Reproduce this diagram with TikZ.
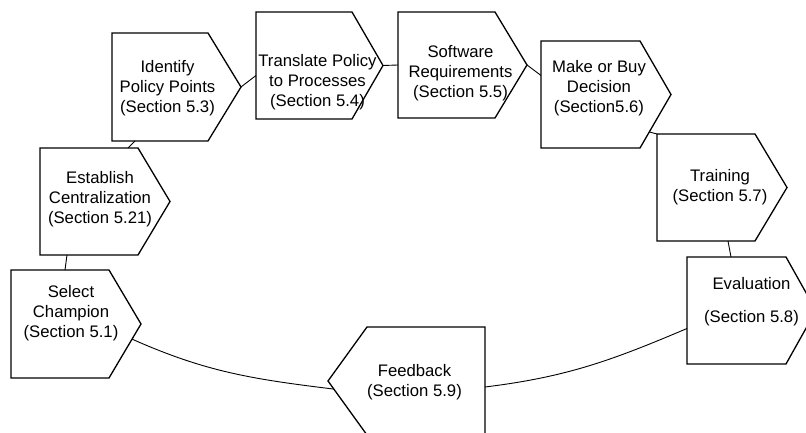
\documentclass[tikz,border=0pt]{standalone}
\usepackage{fontspec}
\setmainfont{Liberation Sans}
\usetikzlibrary{calc}
\tikzstyle{stage} = [rectangle, inner sep=0pt, outer sep=0pt]
\tikzstyle{stagetext} = [align=center, inner sep=0pt, font=\fontsize{16.7}{20}\selectfont]
\tikzstyle{link} = [line width=0.9pt]
\newcommand{\stageoutline}[2]{
    \draw[line width=1.3pt] (#1.north west) -- ([xshift=-#2]#1.north east) -- (#1.east) -- ([xshift=-#2]#1.south east) -- (#1.south west) -- cycle;
}
\newcommand{\stageoutlineleft}[2]{
    \draw[line width=1.3pt] (#1.north east) -- ([xshift=#2]#1.north west) -- (#1.west) -- ([xshift=#2]#1.south west) -- (#1.south east) -- cycle;
}
\begin{document}
\begin{tikzpicture}[x=1pt,y=1pt]
	\useasboundingbox (0,0) rectangle (806,433);
	\clip (0,0) rectangle (806,433);

	\node(champ) at (76,109) [stage, minimum width=130pt, minimum height=108pt, label={[stagetext, xshift=-5pt, yshift=11pt]center:{Select\\Champion\\(Section 5.1)}}] {};
	\stageoutline{champ}{32pt};

	\node(central) at (105,231.5) [stage, minimum width=130pt, minimum height=107pt, label={[stagetext, xshift=-5pt, yshift=2pt]center:{Establish\\Centralization\\(Section 5.21)}}] {};
	\stageoutline{central}{32pt};

	\node(ident) at (176.5,346) [stage, minimum width=129pt, minimum height=108pt, label={[stagetext, xshift=-9pt, yshift=-1pt]center:{Identify\\Policy Points\\(Section 5.3)}}] {};
	\stageoutline{ident}{33pt};

	\node(transl) at (319.5,367.5) [stage, minimum width=127pt, minimum height=107pt, label={[stagetext, xshift=-2pt, yshift=-17pt]center:{Translate Policy\\to Processes\\(Section 5.4)}}] {};
	\stageoutline{transl}{31pt};

	\node(softw) at (462.5,368) [stage, minimum width=129pt, minimum height=106pt, label={[stagetext, xshift=-2pt, yshift=-8pt]center:{Software\\Requirements\\(Section 5.5)}}] {};
	\stageoutline{softw}{32pt};

	\node(mkbuy) at (606,338.5) [stage, minimum width=130pt, minimum height=107pt, label={[stagetext, xshift=-7pt, yshift=6pt]center:{Make or Buy\\Decision\\(Section5.6)}}] {};
	\stageoutline{mkbuy}{31pt};

	\node(train) at (722,245.5) [stage, minimum width=130pt, minimum height=107pt, label={[stagetext, xshift=-2pt]center:{Training\\(Section 5.7)}}] {};
	\stageoutline{train}{32pt};

	\node(eval) at (751.5,122.5) [stage, minimum width=129pt, minimum height=107pt, label={[stagetext, yshift=9pt]center:{Evaluation\\[13pt](Section 5.8)}}] {};
	\stageoutline{eval}{30pt};

	\node(feed) at (406.5,52) [stage, minimum width=157pt, minimum height=108pt, label={[stagetext, xshift=8pt, yshift=-1pt]center:{Feedback\\(Section 5.9)}}] {};
	\stageoutlineleft{feed}{39pt};

	\draw[link] ([xshift=54pt]champ.north west) -- ([xshift=27pt]central.south west);
	\draw[link] ([xshift=88pt]central.north west) -- ([xshift=23pt]ident.south west);
	\draw[link] (ident.east) -- ([yshift=-10pt]transl.west);
	\draw[link] (transl.east) -- (softw.west);
	\draw[link] (softw.east) -- ([yshift=19pt]mkbuy.west);
	\draw[link] ($(mkbuy.east)!0.7!([xshift=-31pt]mkbuy.south east)$) -- (train.north west);
	\draw[link] ([xshift=71pt]train.south west) -- ([xshift=44pt]eval.north west);
	\draw[link] ([yshift=-18pt]eval.west) to[out=203, in=7] ([yshift=-6pt]feed.east);
	\draw[link] ($(feed.west)!0.15!([xshift=39pt]feed.south west)$) to[out=173, in=-24] ($(champ.east)!0.28!([xshift=-32pt]champ.south east)$);
\end{tikzpicture}
\end{document}
